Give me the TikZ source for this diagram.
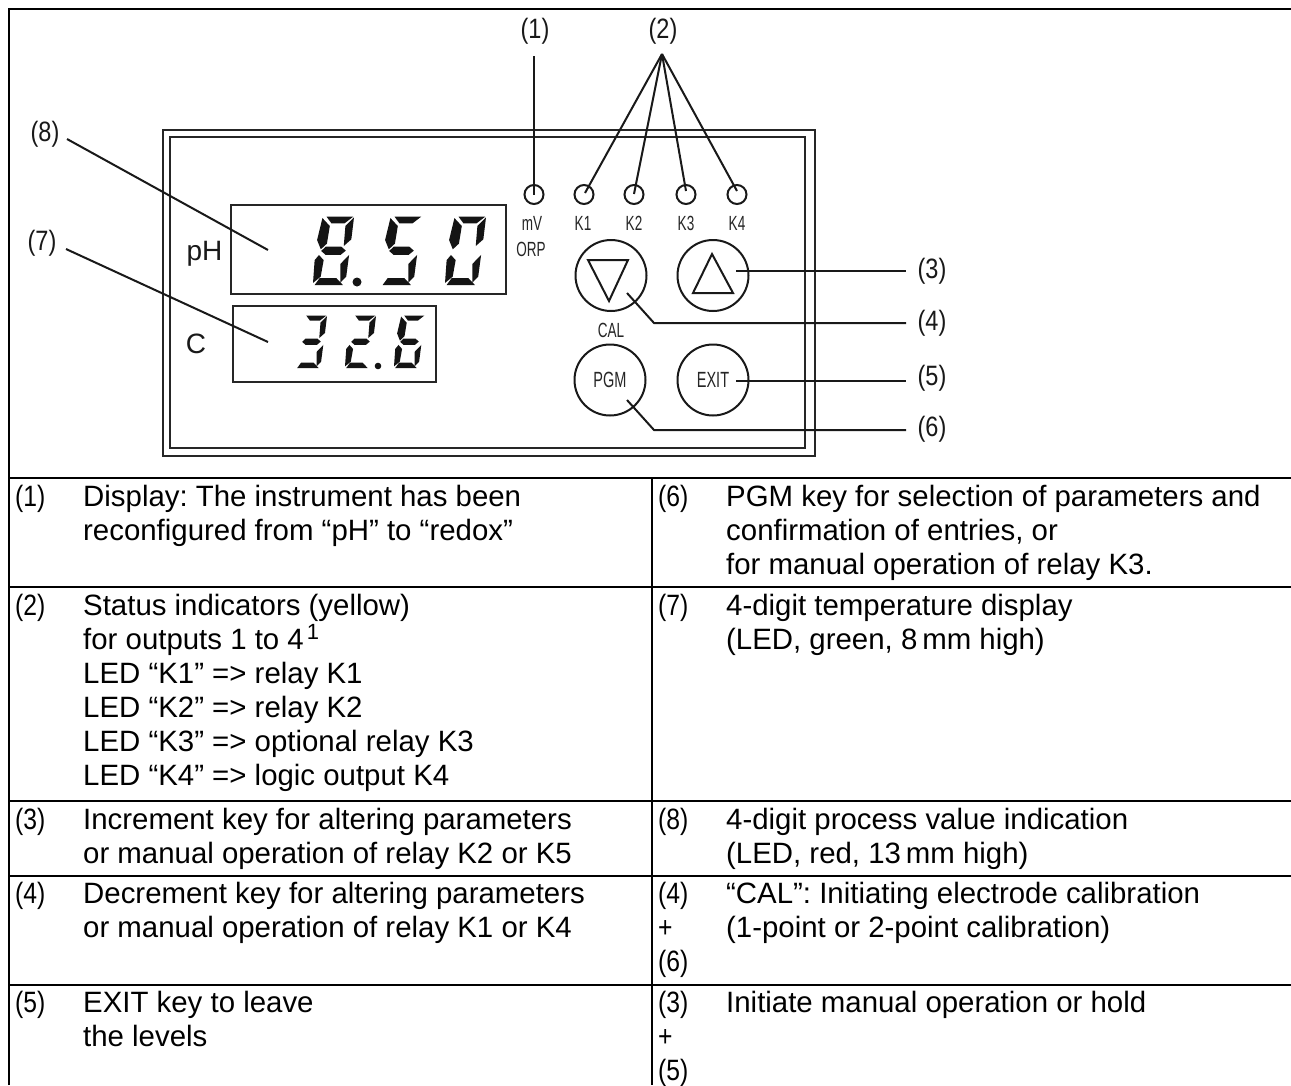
\documentclass[tikz,border=0pt]{standalone}
\usepackage{fontspec}
\setmainfont{Liberation Sans}
\newfontfamily\narrowf[FakeStretch=0.66]{Liberation Sans}
\newfontfamily\numf[FakeStretch=0.84]{Liberation Sans}
\newcommand{\bodyfont}{\fontsize{29.4}{34}\selectfont\frenchspacing}
\newcommand{\firstline}{\rule{0pt}{24pt}}
\newcommand{\footmark}{\kern3pt\raisebox{10pt}{\fontsize{22}{22}\selectfont 1}}
\tikzset{
  rule/.style={line width=2.4pt,black},
  lead/.style={line width=2pt,black!90},
  ring/.style={circle,draw=black!90,line width=2pt,minimum size=#1,inner sep=0pt},
  led/.style={circle,draw=black!90,line width=2pt,minimum size=19pt,inner sep=0pt},
  lab/.style={font=\numf\fontsize{28}{30}\selectfont,inner sep=0pt,text=black!90},
  bigtext/.style={font=\fontsize{28}{30}\selectfont,inner sep=0pt,text=black!90},
  small/.style={font=\narrowf\fontsize{20.5}{24}\selectfont,text=black!85,inner sep=0pt},
  keytext/.style={font=\narrowf\fontsize{22}{24}\selectfont,text=black!85,inner sep=0pt},
  cell/.style={anchor=north west,yshift=24pt,inner sep=0pt,align=left,font=\bodyfont,execute at begin node=\firstline},
  numcell/.style={cell,font=\numf\bodyfont},
  multi/.style={yshift=-3pt},
  frame/.style={draw=black!85,line width=2pt,fill=none},
  seg/.style={fill=black!92,draw=none},
  tri/.style={line width=2pt,draw=black!90}
}
\newcommand{\segA}{\fill[seg] (0.33,0.01) -- (0.98,0.01) -- (0.77,0.106) -- (0.45,0.106) -- cycle;}
\newcommand{\segB}{\fill[seg] (1.0,0.02) -- (0.935,0.338) -- (0.75,0.435) -- (0.79,0.145) -- cycle;}
\newcommand{\segC}{\fill[seg] (0.88,0.565) -- (0.81,0.88) -- (0.667,0.966) -- (0.667,0.695) -- cycle;}
\newcommand{\segD}{\fill[seg] (0.163,0.90) -- (0.57,0.90) -- (0.73,1.0) -- (0.04,1.0) -- cycle;}
\newcommand{\segE}{\fill[seg] (0.146,0.565) -- (0.26,0.64) -- (0.187,0.88) -- (0,0.97) -- (0.04,0.64) -- cycle;}
\newcommand{\segF}{\fill[seg] (0.23,0.03) -- (0.41,0.145) -- (0.34,0.40) -- (0.19,0.483) -- (0.10,0.348) -- cycle;}
\newcommand{\segG}{\fill[seg] (0.31,0.444) -- (0.69,0.444) -- (0.80,0.502) -- (0.67,0.565) -- (0.31,0.565) -- (0.20,0.507) -- cycle;}
\begin{document}
\begin{tikzpicture}[x=1pt,y=-1pt]
\useasboundingbox (0,0) rectangle (1291,1085);
\fill[white] (0,0) rectangle (1291,1085);
% table
\draw[rule] (9,1085) -- (9,9) -- (1291,9);
\foreach \yy in {478,587,801,876,985}{\draw[rule] (9,\yy) -- (1291,\yy);}
\draw[rule] (652,478) -- (652,1085);
% panel
\node[frame,minimum width=652pt,minimum height=326pt,inner sep=0pt] (outer) at (489,293) {};
\node[frame,minimum width=635pt,minimum height=311pt,inner sep=0pt] (inner) at (487.5,292.5) {};
\node[frame,minimum width=275pt,minimum height=89pt,inner sep=0pt] (dispa) at (368.5,249.5) {};
\node[frame,minimum width=203pt,minimum height=76pt,inner sep=0pt] (dispb) at (334.5,344) {};
\node[bigtext] (ph) at (204.5,254) {pH};
\node[bigtext] (c) at (196,344) {C};
% big digits
\begin{scope}[shift={(313,216)},x=41pt,y=-69pt]
\segA\segB\segC\segD\segE\segF\segG
\end{scope}
\fill[black!92] (357,282) circle (4.5pt);
\begin{scope}[shift={(381,216)},x=41pt,y=-69pt]
\segA\segC\segD\segF\segG
\end{scope}
\begin{scope}[shift={(445,216)},x=41pt,y=-69pt]
\segA\segB\segC\segD\segE\segF
\end{scope}
% small digits
\begin{scope}[shift={(296,315)},x=31pt,y=-53pt]
\segA\segB\segC\segD\segG
\end{scope}
\begin{scope}[shift={(345,315)},x=31pt,y=-53pt]
\segA\segB\segD\segE\segG
\end{scope}
\fill[black!92] (378,366) circle (3.3pt);
\begin{scope}[shift={(394,315)},x=31pt,y=-53pt]
\segA\segC\segD\segE\segF\segG
\end{scope}
% LEDs
\node[led] (l0) at (534,194.5) {};
\node[led] (l1) at (584,194.5) {};
\node[led] (l2) at (634,194.5) {};
\node[led] (l3) at (686,194.5) {};
\node[led] (l4) at (737,194.5) {};
\node[small] (t0) at (532,223) {mV};
\node[small] (t00) at (531,249) {ORP};
\node[small] (t1) at (583,223) {K1};
\node[small] (t2) at (634,223) {K2};
\node[small] (t3) at (686,223) {K3};
\node[small] (t4) at (737,223) {K4};
% keys
\node[ring=71pt] (kdn) at (611,275.5) {};
\node[ring=71pt] (kup) at (713,275.5) {};
\node[ring=71pt] (kpg) at (610,380) {};
\node[ring=71pt] (kex) at (713,380) {};
\draw[tri] (588,260) -- (628,260) -- (609,301) -- cycle;
\draw[tri] (712,254) -- (733,293) -- (693,293) -- cycle;
\node[small] (cal) at (611,330) {CAL};
\node[keytext] (tp) at (kpg) {PGM};
\node[keytext] (te) at (kex) {EXIT};
% callout labels
\node[lab] (n1) at (535,31) {(1)};
\node[lab] (n2) at (663,31) {(2)};
\node[lab] (n3) at (932,271) {(3)};
\node[lab] (n4) at (932,323) {(4)};
\node[lab] (n5) at (932,378) {(5)};
\node[lab] (n6) at (932,429) {(6)};
\node[lab] (n7) at (42,243) {(7)};
\node[lab] (n8) at (45,134) {(8)};
\coordinate (j4) at (654,323);
\coordinate (j6) at (654,430);
\coordinate (a3) at (736,271);
\coordinate (a5) at (736,381);
\coordinate (a4) at (627,293);
\coordinate (a6) at (627,400);
\coordinate (a7) at (268,342);
\coordinate (a8) at (268,250);
\coordinate (s7) at (66,249);
\coordinate (s8) at (67,139);
\coordinate (s1) at (534,56);
\coordinate (apex) at (662,54);
\coordinate (e1) at (585,193);
\coordinate (e2) at (634,194);
\coordinate (e3) at (686,191);
\coordinate (e4) at (737,191);
\coordinate (w3) at (906,271);
\coordinate (w4) at (906,323);
\coordinate (w5) at (906,381);
\coordinate (w6) at (906,430);
\draw[lead] (s1) -- (l0.center);
\draw[lead] (apex) -- (e1);
\draw[lead] (apex) -- (e2);
\draw[lead] (apex) -- (e3);
\draw[lead] (apex) -- (e4);
\draw[lead] (a3) -- (w3);
\draw[lead] (a5) -- (w5);
\draw[lead] (a4) -- (j4) -- (w4);
\draw[lead] (a6) -- (j6) -- (w6);
\draw[lead] (s7) -- (a7);
\draw[lead] (s8) -- (a8);
% table text
\node[numcell] at (15,506) {(1)};
\node[cell,multi] at (83,506) {Display: The instrument has been\\reconfigured from “pH” to “redox”};
\node[numcell] at (658,506) {(6)};
\node[cell,multi] at (726,506) {PGM key for selection of parameters and\\confirmation of entries, or\\for manual operation of relay K3.};
\node[numcell] at (15,615) {(2)};
\node[cell,multi] at (83,615) {Status indicators (yellow)\\for outputs 1 to 4\footmark\\LED “K1” => relay K1\\LED “K2” => relay K2\\LED “K3” => optional relay K3\\LED “K4” => logic output K4};
\node[numcell] at (658,615) {(7)};
\node[cell,multi] at (726,615) {4-digit temperature display\\(LED, green, 8\,mm high)};
\node[numcell] at (15,829) {(3)};
\node[cell,multi] at (83,829) {Increment key for altering parameters\\or manual operation of relay K2 or K5};
\node[numcell] at (658,829) {(8)};
\node[cell,multi] at (726,829) {4-digit process value indication\\(LED, red, 13\,mm high)};
\node[numcell] at (15,903) {(4)};
\node[cell,multi] at (83,903) {Decrement key for altering parameters\\or manual operation of relay K1 or K4};
\node[numcell,multi] at (658,903) {(4)\\+\\(6)};
\node[cell,multi] at (726,903) {“CAL”: Initiating electrode calibration\\(1-point or 2-point calibration)};
\node[numcell] at (15,1012) {(5)};
\node[cell,multi] at (83,1012) {EXIT key to leave\\the levels};
\node[numcell,multi] at (658,1012) {(3)\\+\\(5)};
\node[cell] at (726,1012) {Initiate manual operation or hold};
\end{tikzpicture}
\end{document}
